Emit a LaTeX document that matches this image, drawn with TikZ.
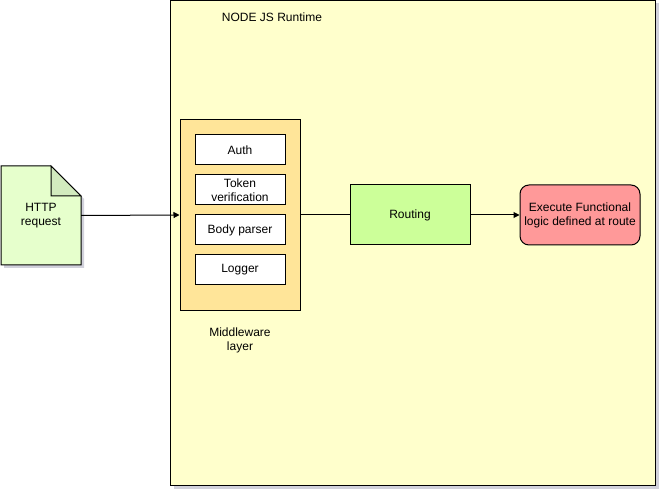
\documentclass[tikz,border=0pt]{standalone}
\usepackage{fontspec}
\setmainfont{Liberation Sans}
\usetikzlibrary{shadows,arrows.meta}
\definecolor{runtimefill}{HTML}{FFFFCC}
\definecolor{mwfill}{HTML}{FFE599}
\definecolor{docfill}{HTML}{E6FFCC}
\definecolor{docfold}{HTML}{D2EBBE}
\definecolor{routefill}{HTML}{CCFF99}
\definecolor{execfill}{HTML}{FF9999}
\definecolor{shadowcol}{HTML}{9A9AB0}
\tikzset{
  every node/.style={font=\fontsize{12}{14}\selectfont, align=center, inner sep=0pt},
  softshadow/.style={drop shadow={shadow xshift=3pt, shadow yshift=-3pt, fill=shadowcol, opacity=0.45}},
  box/.style={draw=black, line width=1pt},
  inner/.style={box, fill=white, minimum width=90pt, minimum height=30pt},
  link/.style={line width=1pt},
  arrow/.style={link, -{Triangle[length=6pt, width=6pt]}}
}
\begin{document}
\begin{tikzpicture}[x=1pt, y=-1pt]
  % canvas
  \fill[white] (0,0) rectangle (667,497);
  \useasboundingbox (0,0) rectangle (667,497);

  % runtime container
  \node[box, fill=runtimefill, softshadow, minimum width=485pt, minimum height=485pt] (runtime) at (413,243) {};
  \node (runtimelabel) at (272,17) {NODE JS Runtime};

  % incoming request (document shape with folded corner)
  \fill[shadowcol, opacity=0.45] (4,169) -- (54,169) -- (84,199) -- (84,268) -- (4,268) -- cycle;
  \draw[box, fill=docfill, line join=miter] (1,166) -- (51,166) -- (81,196) -- (81,265) -- (1,265) -- cycle;
  \draw[box, fill=docfold, line join=miter] (51,166) -- (51,196) -- (81,196) -- cycle;
  \node[minimum width=80pt, minimum height=99pt] (req) at (41,215.5) {HTTP\\request};

  % middleware stack
  \node[box, fill=mwfill, minimum width=120pt, minimum height=190pt] (mw) at (240,215) {};
  \node[inner] (auth) at (240,150) {Auth};
  \node[inner] (token) at (240,190) {Token\\verification};
  \node[inner] (body) at (240,230) {Body parser};
  \node[inner] (logger) at (240,270) {Logger};
  \node (mwlabel) at (240,340) {Middleware\\layer};

  % routing and handler
  \node[box, fill=routefill, minimum width=120pt, minimum height=60pt] (routing) at (410,215) {Routing};
  \node[box, fill=execfill, rounded corners=9pt, minimum width=120pt, minimum height=60pt] (exec) at (580,215) {Execute Functional\\logic defined at route};

  % connectors
  \draw[arrow] (req.east) -- (mw.west);
  \draw[link] (mw.east) -- (routing.west);
  \draw[arrow] (routing.east) -- (exec.west);
\end{tikzpicture}
\end{document}
